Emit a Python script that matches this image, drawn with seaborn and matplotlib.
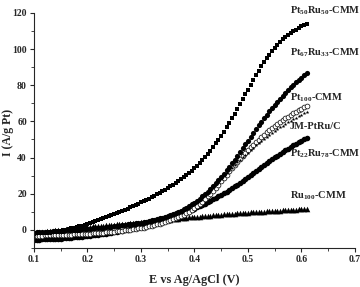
import numpy as np
import pandas as pd
import matplotlib
matplotlib.use('Agg')
import matplotlib.pyplot as plt
import matplotlib.ticker as ticker
import seaborn as sns

# potential sweep, 5 mV steps from 0.10 to 0.61 V
potential = np.round(np.arange(0.100, 0.6101, 0.005), 3)

pt50ru50 = [-2.0, -1.9, -1.8, -1.7, -1.6, -1.5, -1.3, -1.1, -0.9, -0.7,
            -0.4, -0.1, 0.2, 0.5, 0.8, 1.1, 1.5, 1.9, 2.3, 2.8,
            3.2, 3.7, 4.2, 4.7, 5.2, 5.8, 6.3, 6.9, 7.5, 8.1,
            8.7, 9.3, 9.9, 10.5, 11.1, 11.8, 12.4, 13.1, 13.8, 14.5,
            15.2, 15.9, 16.6, 17.3, 18.1, 18.9, 19.7, 20.5, 21.3, 22.2,
            23.1, 24.0, 24.9, 25.9, 26.9, 28.0, 29.1, 30.3, 31.5, 32.8,
            34.1, 35.5, 37.0, 38.6, 40.3, 42.0, 43.9, 45.8, 47.8, 49.9,
            52.1, 54.4, 56.8, 59.2, 61.7, 64.2, 66.8, 69.5, 72.2, 74.9,
            77.6, 80.3, 82.9, 85.5, 88.0, 90.4, 92.7, 94.9, 97.0, 99.0,
            100.8, 102.4, 103.9, 105.3, 106.6, 107.8, 108.9, 109.9, 110.8, 111.7,
            112.5, 113.2, 113.9]

pt67ru33 = [-1.5, -1.4, -1.3, -1.2, -1.1, -1.0, -0.9, -0.8, -0.7, -0.6,
            -0.5, -0.4, -0.3, -0.2, -0.1, 0.0, 0.1, 0.2, 0.3, 0.4,
            0.5, 0.6, 0.8, 0.9, 1.0, 1.2, 1.3, 1.5, 1.7, 1.8,
            2.0, 2.2, 2.4, 2.6, 2.8, 3.0, 3.2, 3.4, 3.6, 3.8,
            4.0, 4.3, 4.6, 4.9, 5.2, 5.5, 5.9, 6.3, 6.7, 7.1,
            7.6, 8.1, 8.7, 9.3, 10.0, 10.7, 11.5, 12.3, 13.2, 14.1,
            15.1, 16.2, 17.3, 18.5, 19.8, 21.2, 22.6, 24.1, 25.7, 27.4,
            29.2, 31.0, 32.9, 34.9, 36.9, 38.9, 41.0, 43.1, 45.2, 47.3,
            49.4, 51.5, 53.6, 55.7, 57.8, 59.8, 61.8, 63.7, 65.6, 67.4,
            69.2, 70.9, 72.6, 74.2, 75.8, 77.3, 78.8, 80.2, 81.6, 82.9,
            84.2, 85.4, 86.6]

pt100 = [-3.3, -3.3, -3.2, -3.2, -3.1, -3.1, -3.0, -3.0, -2.9, -2.9,
         -2.8, -2.8, -2.7, -2.6, -2.6, -2.5, -2.4, -2.4, -2.3, -2.2,
         -2.1, -2.0, -1.9, -1.8, -1.7, -1.6, -1.5, -1.4, -1.3, -1.2,
         -1.0, -0.8, -0.6, -0.4, -0.2, 0.0, 0.2, 0.4, 0.6, 0.8,
         1.0, 1.3, 1.6, 1.9, 2.2, 2.6, 3.0, 3.4, 3.8, 4.3,
         4.8, 5.3, 5.9, 6.5, 7.1, 7.8, 8.5, 9.3, 10.1, 11.0,
         12.0, 13.1, 14.3, 15.6, 17.0, 18.5, 20.0, 21.6, 23.2, 24.9,
         27.0, 28.8, 30.6, 32.4, 34.2, 35.9, 37.6, 39.3, 40.9, 42.5,
         44.1, 45.6, 47.1, 48.5, 49.9, 51.3, 52.6, 53.9, 55.1, 56.3,
         57.5, 58.6, 59.7, 60.7, 61.7, 62.7, 63.6, 64.5, 65.4, 66.2,
         67.0, 67.7, 68.4]

jm_ptru = [-1.2, -1.1, -1.0, -1.0, -0.9, -0.8, -0.7, -0.6, -0.5, -0.4,
           -0.3, -0.2, -0.1, 0.0, 0.1, 0.2, 0.3, 0.4, 0.5, 0.6,
           0.7, 0.8, 0.9, 1.0, 1.1, 1.2, 1.3, 1.4, 1.5, 1.6,
           1.7, 1.8, 1.9, 2.0, 2.1, 2.2, 2.4, 2.6, 2.8, 3.0,
           3.2, 3.5, 3.8, 4.1, 4.4, 4.8, 5.2, 5.6, 6.1, 6.6,
           7.1, 7.7, 8.3, 9.0, 9.7, 10.5, 11.3, 12.2, 13.1, 14.1,
           15.1, 16.2, 17.4, 18.6, 19.9, 21.2, 22.6, 24.0, 25.4, 26.9,
           28.4, 29.9, 31.4, 32.9, 34.4, 35.9, 37.3, 38.7, 40.1, 41.5,
           42.8, 44.1, 45.4, 46.7, 47.9, 49.1, 50.3, 51.4, 52.5, 53.6,
           54.7, 55.7, 56.7, 57.7, 58.6, 59.5, 60.4, 61.3, 62.1, 62.9,
           63.7, 64.5, 65.2]

pt22ru78 = [-5.5, -5.4, -5.4, -5.3, -5.2, -5.2, -5.1, -5.0, -4.9, -4.9,
            -4.8, -4.7, -4.6, -4.5, -4.3, -4.2, -4.0, -3.9, -3.7, -3.6,
            -3.4, -3.2, -3.0, -2.8, -2.6, -2.4, -2.2, -2.0, -1.8, -1.6,
            -1.3, -1.0, -0.7, -0.4, -0.1, 0.2, 0.5, 0.8, 1.1, 1.4,
            1.8, 2.2, 2.6, 3.0, 3.4, 3.8, 4.2, 4.6, 5.0, 5.5,
            6.0, 6.5, 7.0, 7.5, 8.0, 8.6, 9.2, 9.8, 10.4, 11.0,
            11.7, 12.4, 13.1, 13.8, 14.5, 15.3, 16.1, 16.9, 17.7, 18.5,
            19.4, 20.3, 21.2, 22.1, 23.0, 24.0, 25.0, 26.0, 27.0, 28.0,
            29.1, 30.2, 31.3, 32.4, 33.5, 34.6, 35.7, 36.8, 37.9, 39.0,
            40.1, 41.1, 42.1, 43.1, 44.1, 45.0, 45.9, 46.8, 47.7, 48.5,
            49.3, 50.1, 50.8]

ru100 = [-1.5, -1.3, -1.2, -1.0, -0.9, -0.7, -0.6, -0.4, -0.3, -0.1,
         0.0, 0.2, 0.3, 0.5, 0.6, 0.8, 1.0, 1.1, 1.3, 1.4,
         1.6, 1.7, 1.9, 2.0, 2.1, 2.3, 2.4, 2.5, 2.7, 2.8,
         2.9, 3.0, 3.2, 3.3, 3.4, 3.5, 3.6, 3.8, 3.9, 4.0,
         4.1, 4.2, 4.4, 4.5, 4.7, 4.8, 4.9, 5.1, 5.2, 5.4,
         5.5, 5.7, 5.8, 6.0, 6.2, 6.4, 6.5, 6.7, 6.9, 7.0,
         7.2, 7.3, 7.4, 7.6, 7.7, 7.8, 7.9, 8.1, 8.2, 8.3,
         8.5, 8.6, 8.7, 8.8, 8.9, 9.0, 9.1, 9.2, 9.3, 9.4,
         9.6, 9.7, 9.8, 9.9, 10.0, 10.0, 10.1, 10.2, 10.3, 10.4,
         10.5, 10.6, 10.7, 10.8, 10.8, 10.9, 11.0, 11.1, 11.2, 11.3,
         11.3, 11.4, 11.5]

labels = [r'Pt$_{50}$Ru$_{50}$-CMM', r'Pt$_{67}$Ru$_{33}$-CMM', r'Pt$_{100}$-CMM',
          'JM-PtRu/C', r'Pt$_{22}$Ru$_{78}$-CMM', r'Ru$_{100}$-CMM']
label_y = [121, 98, 73, 57, 42, 19]

sns.set_style('ticks')
plt.rcParams['font.family'] = ['Liberation Serif', 'DejaVu Serif']
plt.rcParams['font.weight'] = 'bold'
plt.rcParams['mathtext.fontset'] = 'custom'
plt.rcParams['mathtext.rm'] = 'Liberation Serif:bold'
plt.rcParams['mathtext.bf'] = 'Liberation Serif:bold'
plt.rcParams['mathtext.default'] = 'bf'

fig = plt.figure(figsize=(3.6, 2.87), dpi=100)
ax = fig.add_axes([0.094, 0.136, 0.892, 0.819])

# marker style for each curve: (data, marker, size, filled)
styles = [(ru100, '^', 16, True),
          (pt22ru78, 'o', 16, True),
          (pt100, 'o', 12, False),
          (jm_ptru, '*', 8, True),
          (pt67ru33, 'o', 14, True),
          (pt50ru50, 's', 6, True)]

for vals, mk, sz, filled in styles:
    if filled:
        sns.scatterplot(x=potential, y=vals, marker=mk, s=sz, color='black',
                        linewidth=0, ax=ax)
    else:
        sns.scatterplot(x=potential, y=vals, marker=mk, s=sz, facecolor='white',
                        edgecolor='black', linewidth=0.5, ax=ax)

for lab, yy in zip(labels, label_y):
    ax.text(0.5785, yy, lab, fontsize=7.5, fontweight='bold', va='center',
            ha='left', clip_on=False)

ax.set_xlim(0.1, 0.7)
ax.set_ylim(-10, 120)
ax.xaxis.set_major_locator(ticker.MultipleLocator(0.1))
ax.xaxis.set_minor_locator(ticker.MultipleLocator(0.05))
ax.yaxis.set_major_locator(ticker.MultipleLocator(20))
ax.yaxis.set_minor_locator(ticker.MultipleLocator(10))
ax.xaxis.set_major_formatter(ticker.FormatStrFormatter('%.1f'))
ax.tick_params(which='major', length=3, width=0.8, labelsize=7, pad=2)
ax.tick_params(which='minor', length=2, width=0.6)
for s in ['left', 'bottom']:
    ax.spines[s].set_linewidth(0.8)
sns.despine(ax=ax)

ax.set_xlabel('E vs Ag/AgCl (V)', fontsize=8.8, fontweight='bold', labelpad=7)
ax.set_ylabel('I (A/g Pt)', fontsize=8.5, fontweight='bold')
ax.yaxis.set_label_coords(-0.062, 0.49)

fig.savefig('out.png', dpi=100)
